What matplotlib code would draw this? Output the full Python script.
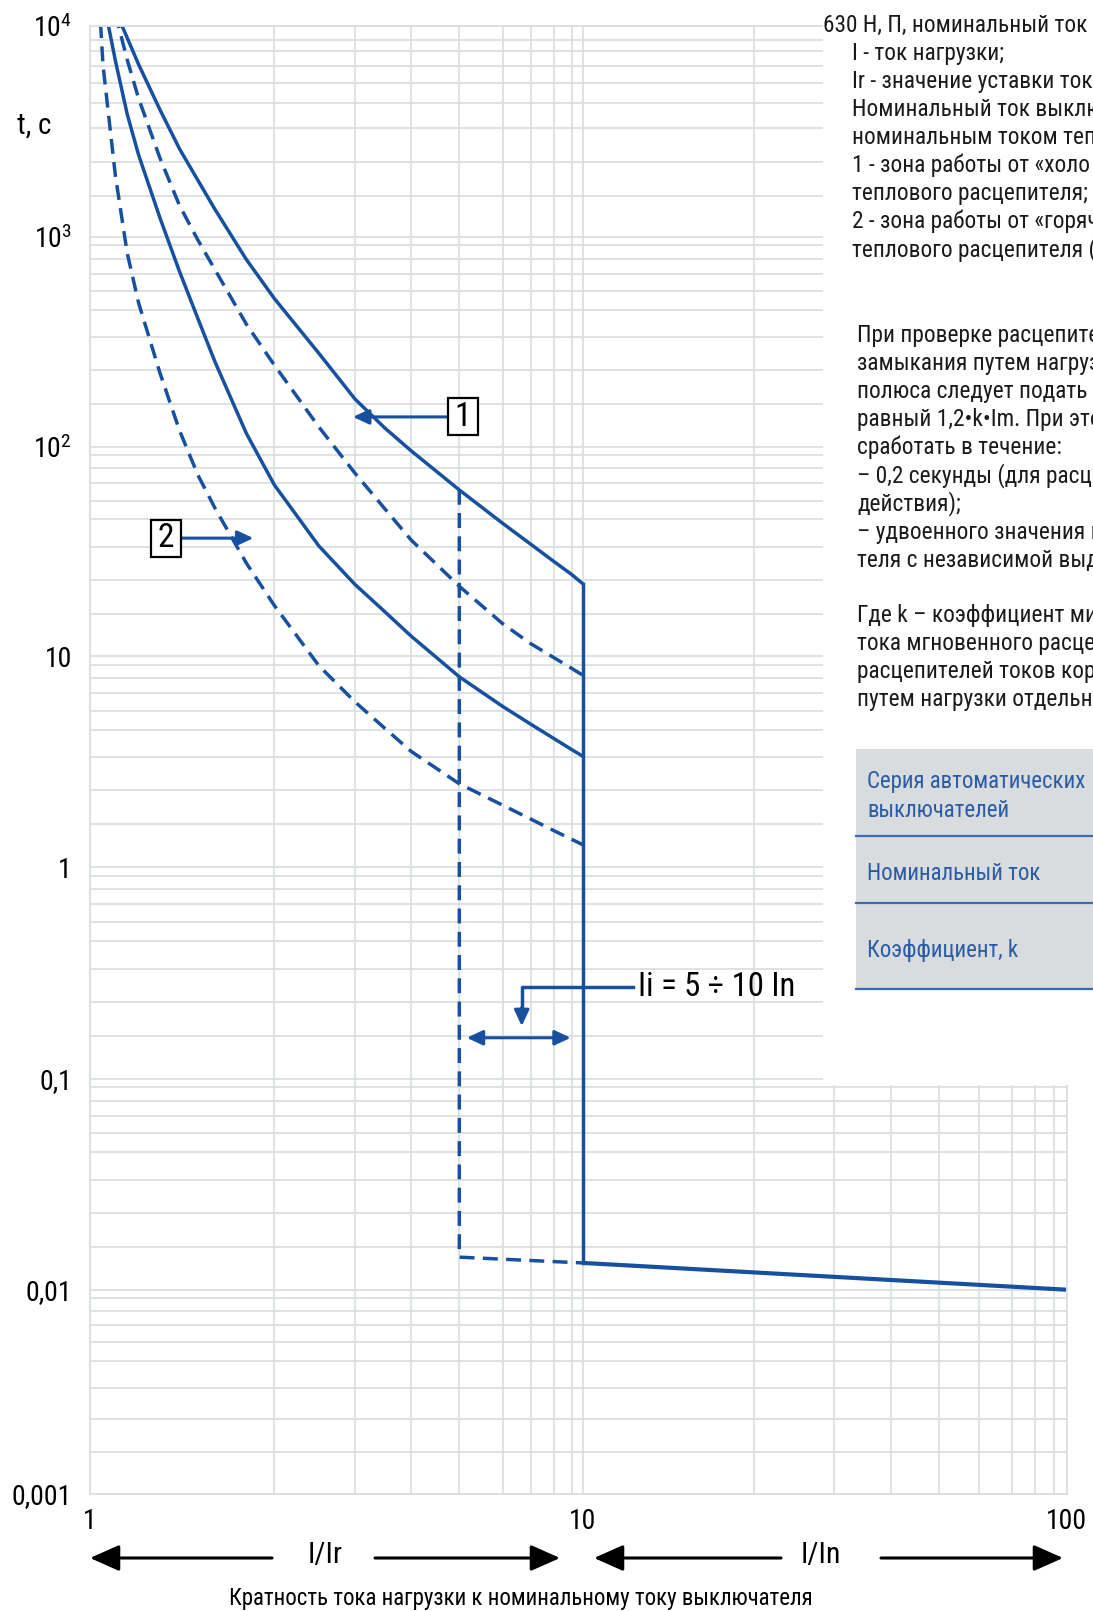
import numpy as np
import matplotlib
matplotlib.use('Agg')
import matplotlib.pyplot as plt
import matplotlib.transforms as mtransforms
from matplotlib import font_manager as fm
from matplotlib.patches import Rectangle, FancyArrowPatch
from matplotlib.lines import Line2D

# the original uses a condensed grotesque; take the narrowest installed one
fonts = [(f.name, f.stretch) for f in fm.fontManager.ttflist]
names = {n for n, s in fonts}
FAM, STRETCH, NARROW = 'Liberation Sans', 'normal', False
for cand in ['Liberation Sans Narrow', 'Roboto Condensed', 'DejaVu Sans Condensed',
             'Open Sans Condensed', 'Noto Sans Condensed']:
    if cand in names:
        FAM, NARROW = cand, True
        break
else:
    for n, s in fonts:
        if ('Condensed' in n or 'Narrow' in n or s in ('condensed', 'semi-condensed')) \
                and 'Mono' not in n and 'Serif' not in n:
            FAM, STRETCH, NARROW = n, s, True
            break
if not NARROW and 'Liberation Sans' not in names:
    FAM = 'DejaVu Sans'

plt.rcParams['font.family'] = [FAM, 'DejaVu Sans']
plt.rcParams['font.stretch'] = STRETCH
plt.rcParams['mathtext.fontset'] = 'custom'
plt.rcParams['mathtext.rm'] = FAM
plt.rcParams['mathtext.it'] = FAM
k = 1.0 if NARROW else 0.9   # text size factor for a wider fallback face

# --- curves: I/Ir -> t, c ---
cold_hi_x = [1.12, 1.15, 1.2, 1.3, 1.4, 1.5, 1.6, 1.8, 2, 2.5, 3, 3.5, 4, 5, 6, 7, 8, 9, 10]
cold_hi_t = [10340, 9170, 7120, 4720, 3350, 2410, 1590, 795, 557, 348, 212, 135, 95, 66, 48.5, 41, 35.3, 31.4, 28.6]

cold_lo_x = [1.06, 1.1, 1.15, 1.2, 1.3, 1.4, 1.5, 1.6, 1.8, 2, 2.5, 3, 3.5, 4, 5, 6, 7, 8, 9, 10]
cold_lo_t = [11170, 7360, 4530, 3190, 1390, 714, 466, 322, 124, 69, 40.4, 28.3, 20.4, 13.9, 8.1, 6.23, 5.27, 4.66, 4.26, 4.04]

hot_hi_x = [1.10, 1.15, 1.2, 1.3, 1.4, 1.5, 1.6, 1.8, 2, 2.5, 3, 3.5, 4, 5, 6, 7, 8, 9, 10]
hot_hi_t = [10950, 7420, 5230, 3110, 1700, 962, 725, 445, 313, 138, 76.7, 55.3, 42.4, 27.7, 17.0, 12.3, 9.86, 8.71, 8.22]

hot_lo_x = [1.035, 1.05, 1.1, 1.15, 1.2, 1.3, 1.4, 1.5, 1.6, 1.8, 2, 2.5, 3, 3.5, 4, 5, 6, 7, 8, 9, 10]
hot_lo_t = [12110, 7070, 2550, 842, 536, 291, 130, 75.5, 55.7, 34.7, 22.0, 8.92, 6.48, 5.05, 4.20, 3.17, 2.51, 2.13, 1.81, 1.57, 1.44]

# instantaneous release, Ii = 5 In (dashed) and 10 In (solid)
inst5_x = [5, 5, 10]
inst5_t = [66.1, 0.0169, 0.0154]
inst10_x = [10, 10]
inst10_t = [28.6, 0.0154]
tail_x = [10, 100]
tail_t = [0.0154, 0.01]

x_major = [1, 10, 100]
x_labels = ['1', '10', '100']
y_major = [0.001, 0.01, 0.1, 1, 10, 100, 1000, 10000]
y_labels = ['0,001', '0,01', '0,1', '1', '10', r'$10^2$', r'$10^3$', r'$10^4$']

# the printed log paper is hand ruled: where each gridline sits (pixels)
x_vals = [1, 2, 3, 4, 5, 6, 7, 8, 9, 10, 20, 30, 40, 50, 60, 70, 80, 90, 100]
x_ruling = [90, 274.4, 355, 411, 459.3, 502.5, 530.5, 553.5, 571.6, 582.6,
            753.8, 833.9, 890.7, 938.5, 978.6, 1012.2, 1035.4, 1054.2, 1066.5]
y_decades = [26, 237, 446.7, 656.3, 867.3, 1079, 1289.7, 1494]  # 1e4 ... 1e-3
y_steps = [0.039, 0.104, 0.175, 0.257, 0.347, 0.479, 0.634, 0.796]  # 9x ... 2x
y_steps_top = [0.068, 0.12, 0.19, 0.271, 0.365, 0.483, 0.644, 0.805]

y_vals, y_pix = [], []
for i in range(7):
    top, bot = y_decades[i], y_decades[i + 1]
    steps = y_steps_top if i == 0 else y_steps
    y_vals.append(10.0 ** (4 - i)); y_pix.append(top)
    for m, f in zip(range(9, 1, -1), steps):
        y_vals.append(m * 10.0 ** (3 - i)); y_pix.append(top + f * (bot - top))
y_vals.append(1e-3); y_pix.append(y_decades[-1])
order = np.argsort(y_vals)
y_vals = np.array(y_vals)[order]
y_pos = -np.array(y_pix)[order]


def ruled(vals, pos):
    lv = np.log10(np.asarray(vals, float))
    pos = np.asarray(pos, float)
    s0 = (pos[1] - pos[0]) / (lv[1] - lv[0])
    s1 = (pos[-1] - pos[-2]) / (lv[-1] - lv[-2])

    def fwd(v):
        l = np.log10(np.clip(np.asarray(v, float), 1e-12, None))
        out = np.interp(l, lv, pos)
        out = np.where(l < lv[0], pos[0] + (l - lv[0]) * s0, out)
        return np.where(l > lv[-1], pos[-1] + (l - lv[-1]) * s1, out)

    def inv(u):
        u = np.asarray(u, float)
        out = np.interp(u, pos, lv)
        out = np.where(u < pos[0], lv[0] + (u - pos[0]) / s0, out)
        out = np.where(u > pos[-1], lv[-1] + (u - pos[-1]) / s1, out)
        return 10.0 ** out
    return fwd, inv


W, H = 1093, 1611
fig = plt.figure(figsize=(W / 100, H / 100), dpi=100)
ax = fig.add_axes([90 / W, 1 - 1494 / H, (1066.5 - 90) / W, (1494 - 26) / H])
ax.set_xscale('function', functions=ruled(x_vals, x_ruling))
ax.set_yscale('function', functions=ruled(y_vals, y_pos))
ax.set_xlim(1, 100)
ax.set_ylim(1e-3, 1e4)

gridc = '#dcdfe1'
blue = '#17509f'
ax.set_xticks(x_major, x_labels)
ax.set_xticks([v for v in x_vals if v not in x_major], minor=True)
ax.set_yticks(y_major, y_labels)
ax.set_yticks([v for v in y_vals if v not in y_major], minor=True)
ax.tick_params(which='both', length=0)
ax.tick_params(axis='x', pad=10, labelsize=20 * k)
ax.tick_params(axis='y', pad=13, labelsize=20 * k)
ax.grid(True, which='both', color=gridc, lw=1.3)
for sp in ax.spines.values():
    sp.set_color(gridc)
    sp.set_linewidth(1.3)

dash = (0, (4.3, 2.4))
ax.plot(cold_hi_x, cold_hi_t, color=blue, lw=2.5)
ax.plot(cold_lo_x, cold_lo_t, color=blue, lw=2.5)
ax.plot(hot_hi_x, hot_hi_t, color=blue, lw=2.5, ls=dash)
ax.plot(hot_lo_x, hot_lo_t, color=blue, lw=2.5, ls=dash)
ax.plot(inst5_x, inst5_t, color=blue, lw=2.5, ls=dash)
ax.plot(inst10_x, inst10_t, color=blue, lw=2.5)
ax.plot(tail_x, tail_t, color=blue, lw=3, solid_capstyle='butt')

# callouts 1 and 2
small = dict(arrowstyle='-|>,head_length=0.6,head_width=0.28', color=blue, lw=2.2,
             shrinkA=0, shrinkB=0, mutation_scale=16)
ax.annotate('', xy=(2.97, 162), xytext=(4.74, 162), arrowprops=small)
ax.annotate('', xy=(1.848, 43), xytext=(1.406, 43), arrowprops=small)


def boxed(x, y, s):
    off = fig.dpi_scale_trans + mtransforms.ScaledTranslation(x, y, ax.transData)
    ax.add_artist(Rectangle((-0.15, -0.185), 0.30, 0.37, transform=off,
                            fc='white', ec='black', lw=1.6, zorder=4))
    ax.text(x, y, s, ha='center', va='center', fontsize=24 * k, zorder=5)


boxed(5.07, 162, '1')
boxed(1.329, 43, '2')

# Ii = 5..10 In callout
ax.plot([12.28, 6.67, 6.67], [0.3414, 0.3414, 0.27], color=blue, lw=2.5)
ax.annotate('', xy=(6.67, 0.2244), xytext=(6.67, 0.28), arrowprops=small)
ax.annotate('', xy=(5.16, 0.1938), xytext=(8.95, 0.1938),
            arrowprops=dict(small, arrowstyle='<|-|>,head_length=0.6,head_width=0.28'))
ax.text(12.53, 0.3414, 'Ii = 5 ÷ 10 In', fontsize=23.5 * k, va='center', ha='left')

# white panel with the description on the right
fig.add_artist(Rectangle((823 / W, 1 - 1085 / H), (W - 823) / W, 1085 / H,
                         transform=fig.transFigure, fc='white', ec='none', zorder=1))


def ftext(px, py, s, **kw):
    fig.text(px / W, 1 - py / H, s, **kw)


ftext(34, 126, 't, c', fontsize=21 * k, ha='center', va='center')

block1 = ['I - ток нагрузки;', 'Ir - значение уставки тока',
          'Номинальный ток выклю', 'номинальным током тепл',
          '1 - зона работы от «холо', 'теплового расцепителя;',
          '2 - зона работы от «горяч', 'теплового расцепителя (']
block2 = ['При проверке расцепител', 'замыкания путем нагруз', 'полюса следует подать и',
          'равный 1,2•k•Im. При это', 'сработать в течение:', '– 0,2 секунды (для расце',
          'действия);', '– удвоенного значения в', 'теля с независимой выде']
block3 = ['Где k – коэффициент ми', 'тока мгновенного расцеп',
          'расцепителей токов коро', 'путем нагрузки отдельно']

tk = dict(fontsize=16.8 * k, va='baseline', color='#1a1a1a')
ftext(823.3, 23.3 + 8.3, '630 Н, П, номинальный ток (', **tk)
for i, s in enumerate(block1):
    ftext(851.7, 51.4 + 28.1 * i + 8.3, s, **tk)
for i, s in enumerate(block2):
    ftext(857.3, 333.3 + 28.2 * i + 8.3, s, **tk)
for i, s in enumerate(block3):
    ftext(857.3, 613.3 + 28.0 * i + 8.3, s, **tk)

# table stub
fig.add_artist(Rectangle((856 / W, 1 - 989.3 / H), (W - 856) / W, (989.3 - 749.3) / H,
                         transform=fig.transFigure, fc='#d9dcde', ec='none', zorder=2))
for py in [836, 903.3, 989.3]:
    fig.add_artist(Line2D([856 / W, 1], [1 - py / H] * 2, transform=fig.transFigure,
                          color='#3a6cb3', lw=1.6, zorder=3))
tb = dict(fontsize=16.5 * k, va='baseline', color='#2a5ca6')
for py, s in [(780, 'Серия автоматических'), (808.3, 'выключателей'),
              (871.7, 'Номинальный ток'), (948.3, 'Коэффициент, k')]:
    ftext(867.3, py + 8.3, s, **tb)

# bottom axis notes
big = dict(arrowstyle='-|>,head_length=0.9,head_width=0.4', color='black', lw=2.2,
           mutation_scale=20, shrinkA=0, shrinkB=0)
for a, b in [(272, 90), (375, 560), (781, 594), (881, 1063)]:
    fig.add_artist(FancyArrowPatch((a / W, 1 - 1558 / H), (b / W, 1 - 1558 / H),
                                   transform=fig.transFigure, **big))
ftext(325, 1555, 'I/Ir', fontsize=21.5 * k, ha='center', va='center')
ftext(821, 1555, 'I/In', fontsize=21.5 * k, ha='center', va='center')
ftext(521, 1598, 'Кратность тока нагрузки к номинальному току выключателя',
      fontsize=16.5 * k, ha='center', va='center')

fig.savefig('out.png', dpi=100)
